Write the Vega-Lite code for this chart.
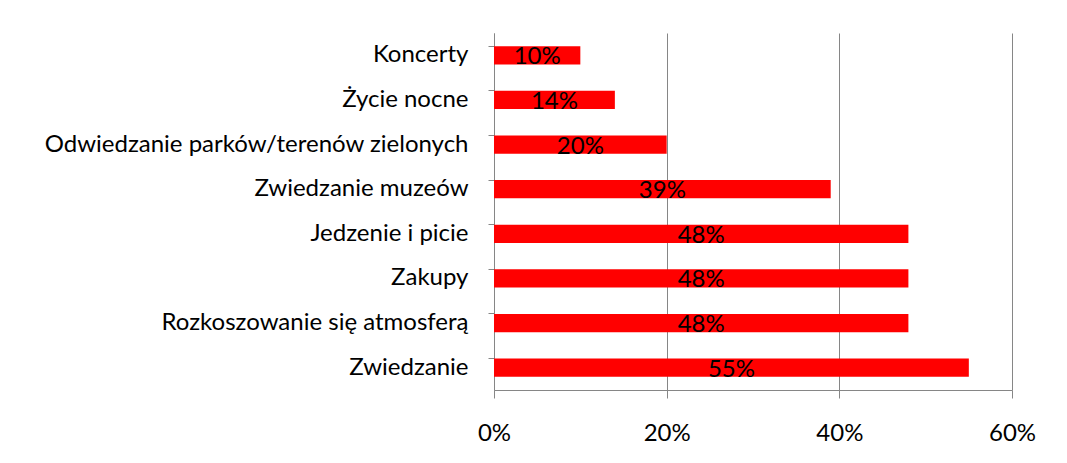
{
  "$schema": "https://vega.github.io/schema/vega-lite/v6.json",
  "width": 518,
  "height": 357,
  "autosize": {"type": "none"},
  "padding": {"left": 494, "top": 33, "right": 55, "bottom": 73},
  "background": "white",
  "config": {"view": {"stroke": null}, "font": "Lato"},
  "data": {
    "values": [
      {"category": "Koncerty", "value": 0.10},
      {"category": "Życie nocne", "value": 0.14},
      {"category": "Odwiedzanie parków/terenów zielonych", "value": 0.20},
      {"category": "Zwiedzanie muzeów", "value": 0.39},
      {"category": "Jedzenie i picie", "value": 0.48},
      {"category": "Zakupy", "value": 0.48},
      {"category": "Rozkoszowanie się atmosferą", "value": 0.48},
      {"category": "Zwiedzanie", "value": 0.55}
    ]
  },
  "encoding": {
    "y": {
      "field": "category",
      "type": "nominal",
      "sort": null,
      "scale": {"paddingInner": 0.59, "paddingOuter": 0.295},
      "axis": {
        "title": null,
        "domainColor": "#868686",
        "tickColor": "#868686",
        "tickSize": 6,
        "bandPosition": 0,
        "labelPadding": 20,
        "labelFont": "Lato",
        "labelFontSize": 24,
        "labelColor": "black",
        "labelLimit": 600,
        "grid": false
      }
    }
  },
  "layer": [
    {
      "mark": {"type": "bar", "color": "#FF0000"},
      "encoding": {
        "x": {
          "field": "value",
          "type": "quantitative",
          "scale": {"domain": [0, 0.6], "nice": false},
          "axis": {
            "title": null,
            "values": [0, 0.2, 0.4, 0.6],
            "format": ".0%",
            "domainColor": "#868686",
            "tickColor": "#868686",
            "gridColor": "#868686",
            "grid": true,
            "tickSize": 8,
            "labelPadding": 23,
            "labelFlush": false,
            "labelFont": "Lato",
            "labelFontSize": 24,
            "labelColor": "black"
          }
        }
      }
    },
    {
      "mark": {"type": "text", "fontSize": 24, "font": "Lato", "color": "black", "dy": 9, "baseline": "alphabetic", "align": "center"},
      "encoding": {
        "x": {"field": "value", "type": "quantitative", "scale": {"domain": [0, 1.2], "nice": false}, "axis": null},
        "text": {"field": "value", "type": "quantitative", "format": ".0%"}
      }
    }
  ],
  "resolve": {"scale": {"x": "independent"}}
}
